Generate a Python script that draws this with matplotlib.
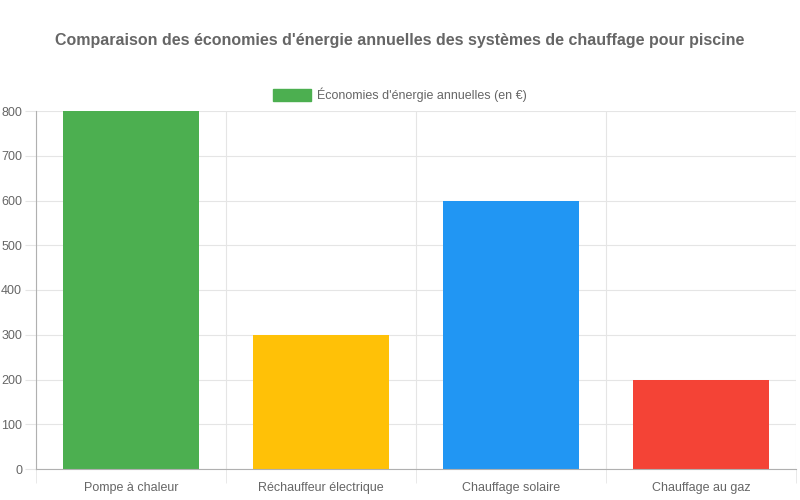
import matplotlib.pyplot as plt
from matplotlib.patches import Patch

plt.rcParams['font.family'] = ['Liberation Sans', 'DejaVu Sans']

# Data
categories = ["Pompe à chaleur", "Réchauffeur électrique", "Chauffage solaire", "Chauffage au gaz"]
savings = [800, 300, 600, 200]
colors = ["#4CAF50", "#FFC107", "#2196F3", "#F44336"]
series_label = "Économies d'énergie annuelles (en €)"
title = "Comparaison des économies d'énergie annuelles des systèmes de chauffage pour piscine"

text_col = "#666666"
grid_col = "#e5e5e5"

fig = plt.figure(figsize=(8, 5), dpi=100)
ax = fig.add_axes([0.045, 0.062, 0.95, 0.716])

x = range(len(categories))
ax.bar(x, savings, width=0.72, color=colors, zorder=2)

ax.set_xlim(-0.5, len(categories) - 0.5)
ax.set_ylim(0, 800)
ax.set_yticks(range(0, 801, 100))
ax.set_xticks(list(x))
ax.set_xticklabels(categories)
ax.set_xticks([i - 0.5 for i in range(len(categories) + 1)], minor=True)

ax.grid(True, axis='y', color=grid_col, linewidth=0.8, zorder=0)
ax.grid(True, axis='x', which='minor', color=grid_col, linewidth=0.8, zorder=0)

ax.tick_params(axis='x', which='major', length=0, pad=9, labelsize=9, labelcolor=text_col)
ax.tick_params(axis='x', which='minor', length=10, color=grid_col)
ax.tick_params(axis='y', length=8, color=grid_col, labelsize=9, labelcolor=text_col, pad=2)

for side in ['top', 'right']:
    ax.spines[side].set_visible(False)
ax.spines['left'].set_color('#b0b0b0')
ax.spines['bottom'].set_color('#b0b0b0')

fig.text(0.5, 0.92, title, ha='center', va='center', fontsize=11.5,
         fontweight='bold', color=text_col)

handle = Patch(facecolor=colors[0], edgecolor=colors[0])
fig.legend([handle], [series_label], loc='center', bbox_to_anchor=(0.5, 0.81),
           frameon=False, fontsize=9, labelcolor=text_col,
           handlelength=3.0, handleheight=1.0, handletextpad=0.5)

fig.savefig("out.png", dpi=100)
